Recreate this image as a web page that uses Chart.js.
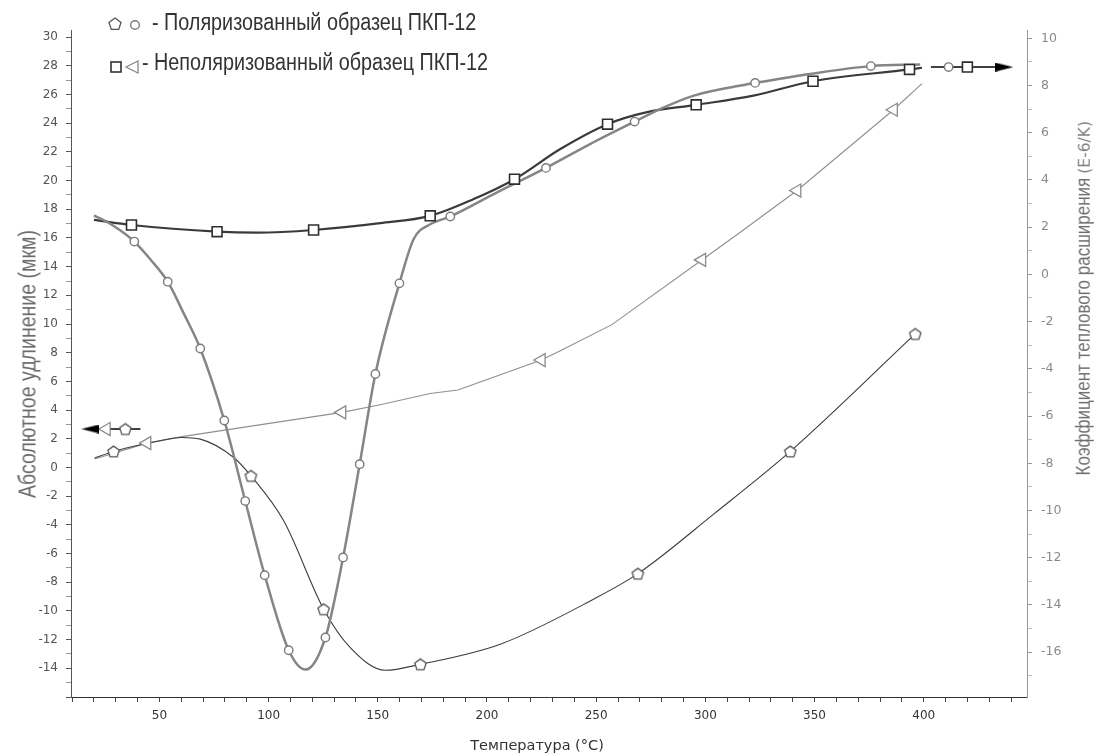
<!DOCTYPE html>
<html lang="ru">
<head>
<meta charset="utf-8">
<title>Абсолютное удлинение и КТР образцов ПКП-12</title>
<script src="https://cdn.jsdelivr.net/npm/chart.js@4.4.1/dist/chart.umd.min.js"></script>
<style>
  html, body { margin: 0; padding: 0; background: #fff; }
  #wrap { position: relative; width: 1097px; height: 753px; overflow: hidden; }
  #chart { position: absolute; left: 0; top: 0; }
  .legend-text {
    position: absolute;
    white-space: nowrap;
    font-family: 'Liberation Sans Narrow', 'Arial Narrow', 'Liberation Sans', sans-serif;
    font-size: 23px;
    line-height: 26px;
    color: #333;
    transform: scaleX(0.86);
    transform-origin: left center;
  }
  .axis-title {
    position: absolute;
    white-space: nowrap;
    line-height: 1;
  }
  #left-title {
    left: 28px;
    top: 364px;
    transform: translate(-50%, -50%) rotate(-90deg) scaleX(0.85);
    font-family: 'Liberation Sans Narrow', 'Arial Narrow', 'Liberation Sans', sans-serif;
    font-size: 23px;
    color: #6a6a6a;
  }
  #right-title {
    left: 1083px;
    top: 302px;
    transform: translate(-50%, -50%) rotate(-90deg);
    color: #6e6e6e;
  }
  #right-title .main {
    display: inline-block;
    font-family: 'Liberation Sans Narrow', 'Arial Narrow', 'Liberation Sans', sans-serif;
    font-size: 20px;
    transform: scaleX(0.85);
    transform-origin: right center;
    margin-left: -45px;
  }
  #right-title .unit { font-family: 'DejaVu Sans', sans-serif; font-size: 15.5px; color: #808080; }
  #x-title {
    left: 537px;
    top: 745px;
    transform: translate(-50%, -50%);
    font-family: 'DejaVu Sans', sans-serif;
    font-size: 14.5px;
    color: #333;
  }
</style>
</head>
<body>
<div id="wrap">
  <canvas id="chart" width="1097" height="753"></canvas>

  <svg id="legend-marks" width="200" height="90" style="position:absolute;left:0;top:0">
    <polygon points="115,18 121,22.4 118.7,29.4 111.3,29.4 109,22.4" fill="#fff" stroke="#555" stroke-width="1.3"/>
    <circle cx="135" cy="25" r="4.3" fill="#fff" stroke="#7b7b7b" stroke-width="1.4"/>
    <rect x="111" y="62" width="10" height="10" fill="#fff" stroke="#333" stroke-width="1.6"/>
    <polygon points="126,67 138,61 138,73" fill="#fff" stroke="#888" stroke-width="1.3"/>
  </svg>
  <div class="legend-text" style="left:152px;top:9px">- Поляризованный образец ПКП-12</div>
  <div class="legend-text" style="left:142px;top:49px">- Неполяризованный образец ПКП-12</div>

  <div id="left-title" class="axis-title">Абсолютное удлинение (мкм)</div>
  <div id="right-title" class="axis-title"><span class="main">Коэффициент теплового расширения</span> <span class="unit">(E-6/K)</span></div>
  <div id="x-title" class="axis-title">Температура (°C)</div>
</div>

<script>
// Поляризованный образец, КТР (кружки, правая ось)
const polCteT = [20, 29.1, 38.5, 45.8, 53.8, 61, 68.7, 79.7, 89.3, 98.2, 109.2, 116.9, 126, 134.1, 141.7, 148.9, 159.9, 166.4, 174, 183.2, 204.6, 227, 247.2, 267.6, 279.3, 294.7, 316, 322.8, 348, 375.8, 398.4];
const polCteVal = [2.5, 2.05, 1.39, 0.64, -0.31, -1.63, -3.14, -6.19, -9.6, -12.74, -15.92, -16.74, -15.38, -11.99, -8.04, -4.22, -0.38, 1.49, 2.12, 2.45, 3.47, 4.51, 5.52, 6.47, 7.0, 7.57, 8.0, 8.11, 8.49, 8.82, 8.89];
const polCteMark = [0, 0, 1, 0, 1, 0, 1, 1, 1, 1, 1, 0, 1, 1, 1, 1, 1, 0, 0, 1, 0, 1, 0, 1, 0, 0, 0, 1, 0, 1, 0];

// Неполяризованный образец, КТР (квадраты, правая ось)
const unpolCteT = [20, 37.2, 76.4, 94.7, 120.6, 151.1, 174, 193.7, 212.6, 233.6, 255.2, 273.3, 295.8, 322, 349.3, 393.5, 399.2];
const unpolCteVal = [2.31, 2.09, 1.81, 1.77, 1.88, 2.17, 2.48, 3.18, 4.03, 5.31, 6.36, 6.87, 7.18, 7.57, 8.18, 8.68, 8.75];
const unpolCteMark = [0, 1, 1, 0, 1, 0, 1, 0, 1, 0, 1, 0, 1, 0, 1, 1, 0];

// Поляризованный образец, удлинение (пятиугольники, левая ось)
const polDlT = [20.3, 29, 50.4, 60.3, 68.7, 84, 91.9, 106.9, 125.2, 137.4, 153.4, 169.5, 206.1, 248.8, 269.1, 303.8, 338.9, 396.1];
const polDlVal = [0.66, 1.12, 1.86, 2.09, 1.98, 0.7, -0.58, -3.72, -9.88, -12.56, -14.14, -13.72, -12.32, -9.18, -7.4, -3.25, 1.12, 9.31];
const polDlMark = [0, 1, 0, 0, 0, 0, 1, 0, 1, 0, 0, 1, 0, 0, 1, 0, 1, 1];

// Неполяризованный образец, удлинение (треугольники, левая ось)
const unpolDlT = [20.3, 44.3, 60.3, 133.6, 151.1, 174, 186.7, 224.9, 233.6, 257.2, 298.4, 316, 342, 386.2, 399.2];
const unpolDlVal = [0.59, 1.7, 2.15, 3.84, 4.38, 5.16, 5.4, 7.49, 8.14, 9.96, 14.47, 16.4, 19.31, 24.94, 26.76];
const unpolDlMark = [0, 1, 0, 1, 0, 0, 0, 1, 0, 0, 1, 0, 1, 1, 0];

// стрелки-указатели осей
const leftArrowT = [18.4, 41.3];
const leftArrowVal = 2.68;
const leftArrowTriT = 25.7;
const leftArrowPentT = 34.4;
const rightArrowT = [403.3, 436.9];
const rightArrowVal = 8.78;
const rightArrowCircT = 411.4;
const rightArrowSqT = 420;

// оси
const xMin = 9.5, xMax = 447.3, xStep = 10, xLabelStep = 50;
const leftMin = -16, leftMax = 30.5;
const rightMin = -17.9, rightMax = 10.35;
const yStep = 1, yLabelStep = 2;

function points(ts, vs) {
  return ts.map((t, i) => ({ x: t, y: vs[i] }));
}

function marked(ts, vs, flags) {
  return points(ts, vs).filter((p, i) => flags[i]);
}

function makePentagon(size, color) {
  const c = document.createElement('canvas');
  c.width = size;
  c.height = size;
  const ctx = c.getContext('2d');
  const r = size / 2 - 1.5;
  ctx.beginPath();
  for (let i = 0; i < 5; i++) {
    const a = -Math.PI / 2 + (i * 2 * Math.PI) / 5;
    const px = size / 2 + r * Math.cos(a);
    const py = size / 2 + 0.6 + r * Math.sin(a);
    if (i) ctx.lineTo(px, py);
    else ctx.moveTo(px, py);
  }
  ctx.closePath();
  ctx.fillStyle = '#fff';
  ctx.fill();
  ctx.lineWidth = 1.3;
  ctx.strokeStyle = color;
  ctx.stroke();
  return c;
}

function makeArrowHead(len, h) {
  const c = document.createElement('canvas');
  c.width = len;
  c.height = h;
  const ctx = c.getContext('2d');
  ctx.beginPath();
  ctx.moveTo(0, 0);
  ctx.lineTo(len, h / 2);
  ctx.lineTo(0, h);
  ctx.closePath();
  ctx.fillStyle = '#000';
  ctx.fill();
  return c;
}

const pentagon = makePentagon(15, '#555');
const arrowHead = makeArrowHead(18, 9);

const circleMark = { pointStyle: 'circle', pointRadius: 4.2, pointBorderColor: '#7b7b7b', pointBorderWidth: 1.4, pointBackgroundColor: '#fff' };
const squareMark = { pointStyle: 'rect', pointRadius: 7, pointBorderColor: '#2e2e2e', pointBorderWidth: 1.6, pointBackgroundColor: '#fff' };
const triangleMark = { pointStyle: 'triangle', pointRotation: 270, pointRadius: 7.5, pointBorderColor: '#8a8a8a', pointBorderWidth: 1.3, pointBackgroundColor: '#fff' };
const pentagonMark = { pointStyle: pentagon, pointRadius: 6 };

function curve(data, axis, color, width, smooth) {
  return {
    data, yAxisID: axis, borderColor: color, borderWidth: width,
    pointRadius: 0, tension: 0, cubicInterpolationMode: smooth ? 'monotone' : 'default',
    order: 2,
  };
}

function marks(data, axis, style) {
  return Object.assign({ data, yAxisID: axis, showLine: false, order: 0 }, style);
}

function tickColor(major, minor) {
  return (ctx) => (ctx.tick && ctx.tick.value % yLabelStep === 0 ? major : minor);
}

const datasets = [
  curve(points(polCteT, polCteVal), 'y2', '#858585', 2.5, true),
  curve(points(unpolCteT, unpolCteVal), 'y2', '#3a3a3a', 2.2, true),
  curve(points(polDlT, polDlVal), 'y', '#3d3d3d', 1.1, true),
  curve(points(unpolDlT, unpolDlVal), 'y', '#8f8f8f', 1.1, false),

  marks(marked(polCteT, polCteVal, polCteMark), 'y2', circleMark),
  marks(marked(unpolCteT, unpolCteVal, unpolCteMark), 'y2', squareMark),
  marks(marked(polDlT, polDlVal, polDlMark), 'y', pentagonMark),
  marks(marked(unpolDlT, unpolDlVal, unpolDlMark), 'y', triangleMark),

  // стрелки
  curve(leftArrowT.map((t) => ({ x: t, y: leftArrowVal })), 'y', '#000', 1.6, false),
  curve(rightArrowT.map((t) => ({ x: t, y: rightArrowVal })), 'y2', '#000', 1.6, false),
  marks([{ x: leftArrowT[0], y: leftArrowVal }], 'y', { pointStyle: arrowHead, pointRotation: 180, pointRadius: 6 }),
  marks([{ x: rightArrowT[1], y: rightArrowVal }], 'y2', { pointStyle: arrowHead, pointRadius: 6 }),
  marks([{ x: leftArrowTriT, y: leftArrowVal }], 'y', triangleMark),
  marks([{ x: leftArrowPentT, y: leftArrowVal }], 'y', pentagonMark),
  marks([{ x: rightArrowCircT, y: rightArrowVal }], 'y2', circleMark),
  marks([{ x: rightArrowSqT, y: rightArrowVal }], 'y2', squareMark),
];

new Chart(document.querySelector('#chart'), {
  type: 'line',
  data: { datasets },
  options: {
    responsive: false,
    animation: false,
    events: [],
    layout: { padding: { top: 30, left: 0, right: 0, bottom: 0 } },
    plugins: { legend: { display: false }, tooltip: { enabled: false } },
    scales: {
      x: {
        type: 'linear',
        min: xMin,
        max: xMax,
        afterFit(scale) { scale.height = 56; },
        border: { color: '#333', width: 1 },
        grid: { drawOnChartArea: false, tickLength: 5, tickColor: '#444' },
        ticks: {
          stepSize: xStep,
          includeBounds: false,
          autoSkip: false,
          maxRotation: 0,
          padding: 7,
          color: '#333',
          font: { family: 'DejaVu Sans', size: 12 },
          callback: (v) => (v % xLabelStep === 0 ? v : ''),
        },
      },
      y: {
        type: 'linear',
        position: 'left',
        min: leftMin,
        max: leftMax,
        afterFit(scale) { scale.width = 71; },
        border: { color: '#555', width: 1 },
        grid: { drawOnChartArea: false, tickLength: 5, tickColor: tickColor('#555', '#999') },
        ticks: {
          stepSize: yStep,
          includeBounds: false,
          autoSkip: false,
          padding: 8,
          color: '#555',
          font: { family: 'DejaVu Sans', size: 12 },
          callback: (v) => (v % yLabelStep === 0 && v > leftMin ? v : ''),
        },
      },
      y2: {
        type: 'linear',
        position: 'right',
        min: rightMin,
        max: rightMax,
        afterFit(scale) { scale.width = 70; },
        border: { color: '#999', width: 1 },
        grid: { drawOnChartArea: false, tickLength: 5, tickColor: tickColor('#999', '#bbb') },
        ticks: {
          stepSize: yStep,
          includeBounds: false,
          autoSkip: false,
          padding: 9,
          color: '#8a8a8a',
          font: { family: 'DejaVu Sans', size: 12.5 },
          callback: (v) => (v % yLabelStep === 0 ? v : ''),
        },
      },
    },
  },
});
</script>
</body>
</html>
